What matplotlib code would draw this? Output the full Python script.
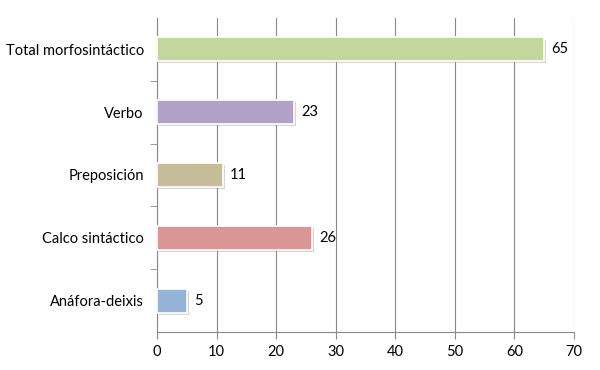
import matplotlib.pyplot as plt
import matplotlib.patheffects as pe

categories = ["Total morfosintáctico", "Verbo", "Preposición", "Calco sintáctico", "Anáfora-deixis"]
values = [65, 23, 11, 26, 5]
colors = ["#c3d69b", "#b3a2c7", "#c4bd97", "#d99694", "#95b3d7"]
xticks = [0, 10, 20, 30, 40, 50, 60, 70]

plt.rcParams["font.family"] = ["Lato", "DejaVu Sans"]

fig = plt.figure(figsize=(6, 3.7), dpi=100)
ax = fig.add_axes([0.2617, 0.1027, 0.695, 0.8487])

ypos = list(range(len(categories)))[::-1]
bars = ax.barh(ypos, values, height=0.38, color=colors, edgecolor="white", linewidth=1.2, zorder=3)
for b in bars:
    b.set_path_effects([pe.SimplePatchShadow(offset=(1.5, -1.5), shadow_rgbFace="0.6", alpha=0.4), pe.Normal()])

for y, v in zip(ypos, values):
    ax.text(v + 1.2, y, str(v), va="center", ha="left", fontsize=10.5, color="black")

ax.set_xlim(0, 70)
ax.set_ylim(-0.5, len(categories) - 0.5)
ax.set_xticks(xticks)
ax.set_yticks(ypos)
ax.set_yticklabels(categories)
ax.set_yticks([i + 0.5 for i in range(len(categories) - 1)], minor=True)
ax.tick_params(axis="y", which="major", length=0, pad=9.5, labelsize=10.5)
ax.tick_params(axis="y", which="minor", length=5, color="#888888")
ax.tick_params(axis="x", length=5, color="#888888", labelsize=10.5, pad=4)

ax.grid(axis="x", color="#888888", linewidth=0.8, zorder=0)
ax.set_axisbelow(True)
for s in ["top", "right"]:
    ax.spines[s].set_visible(False)
ax.spines["left"].set_color("#888888")
ax.spines["bottom"].set_color("#888888")

fig.savefig("out.png", dpi=100)
